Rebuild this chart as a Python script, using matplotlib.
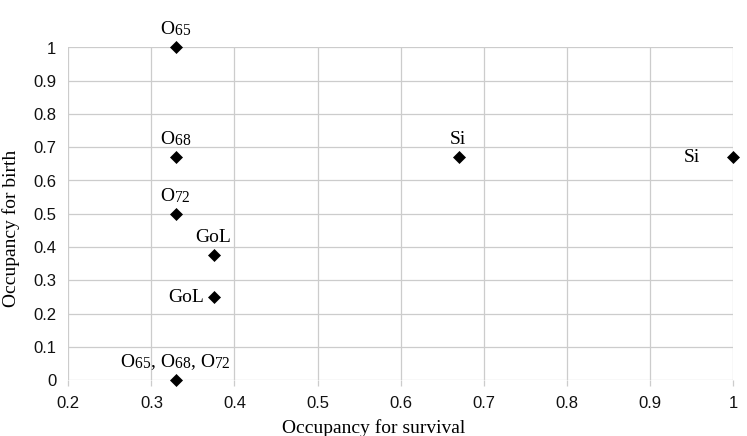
import matplotlib
matplotlib.use("Agg")
import matplotlib.pyplot as plt
import matplotlib._mathtext as _mt

# larger, less-dropped subscripts (as in the reference typesetting)
_mt.SHRINK_FACTOR = 0.8
_mt.FontConstantsBase.sub1 = 0.2
_mt.FontConstantsBase.sub2 = 0.25

plt.rcParams['mathtext.fontset'] = 'custom'
plt.rcParams['mathtext.rm'] = 'Liberation Serif'
plt.rcParams['mathtext.it'] = 'Liberation Serif:italic'
plt.rcParams['mathtext.bf'] = 'Liberation Serif:bold'

# Data
survival = [0.33, 0.33, 0.33, 0.375, 0.375, 0.33, 0.67, 1.0]
birth = [1.0, 0.67, 0.5, 0.375, 0.25, 0.0, 0.67, 0.67]
labels = [r'O$_{\mathrm{65}}$', r'O$_{\mathrm{68}}$', r'O$_{\mathrm{72}}$', 'GoL', 'GoL',
          r'O$_{\mathrm{65}}$, O$_{\mathrm{68}}$, O$_{\mathrm{72}}$', 'Si', 'Si']
label_side = ['above', 'above', 'above', 'above', 'left', 'above', 'above', 'left']
x_ticks = [0.2, 0.3, 0.4, 0.5, 0.6, 0.7, 0.8, 0.9, 1.0]
x_tick_labels = ['0.2', '0.3', '0.4', '0.5', '0.6', '0.7', '0.8', '0.9', '1']
y_ticks = [0, 0.1, 0.2, 0.3, 0.4, 0.5, 0.6, 0.7, 0.8, 0.9, 1.0]
y_tick_labels = ['0', '0.1', '0.2', '0.3', '0.4', '0.5', '0.6', '0.7', '0.8', '0.9', '1']

W, H = 747, 436
fig = plt.figure(figsize=(W / 100, H / 100), dpi=100)
ax = fig.add_axes([68.3 / W, 1 - 380 / H, (733 - 68.3) / W, (380 - 47.5) / H])

grid_color = '#cccccc'
ax.set_xlim(0.2, 1.0)
ax.set_ylim(0, 1.0)
ax.set_xticks(x_ticks)
ax.set_xticklabels(x_tick_labels)
ax.set_yticks(y_ticks)
ax.set_yticklabels(y_tick_labels)
ax.grid(True, color=grid_color, linewidth=0.9)
ax.set_axisbelow(True)
for s in ax.spines.values():
    s.set_visible(False)
ax.tick_params(axis='x', length=4.5, width=0.9, color=grid_color, pad=7,
               labelsize=12)
ax.tick_params(axis='y', length=0, pad=8.6, labelsize=12)
for t in ax.get_xticklabels() + ax.get_yticklabels():
    t.set_fontfamily('Liberation Sans')
    t.set_color('#111111')

ax.plot(survival, birth, linestyle='none', marker='D', markersize=6.2,
        color='black', markeredgewidth=0.5, clip_on=False, zorder=3)

for x, y, lab, side in zip(survival, birth, labels, label_side):
    if side == 'above':
        ax.annotate(lab, (x, y), xytext=(-1, 13), textcoords='offset pixels',
                    ha='center', va='baseline', fontsize=14,
                    fontfamily='Liberation Serif')
    else:
        ax.annotate(lab, (x, y), xytext=(-10 if x < 0.9 else -33, -5),
                    textcoords='offset pixels', ha='right', va='baseline',
                    fontsize=14, fontfamily='Liberation Serif')

fig.text(0.5, 1 - 433 / H, 'Occupancy for survival', ha='center',
         va='baseline', fontsize=14, fontfamily='Liberation Serif')
fig.text(11 / W, 1 - 228 / H, 'Occupancy for birth', ha='center', va='center',
         rotation=90, fontsize=14, fontfamily='Liberation Serif')

fig.savefig('out.png', dpi=100)
